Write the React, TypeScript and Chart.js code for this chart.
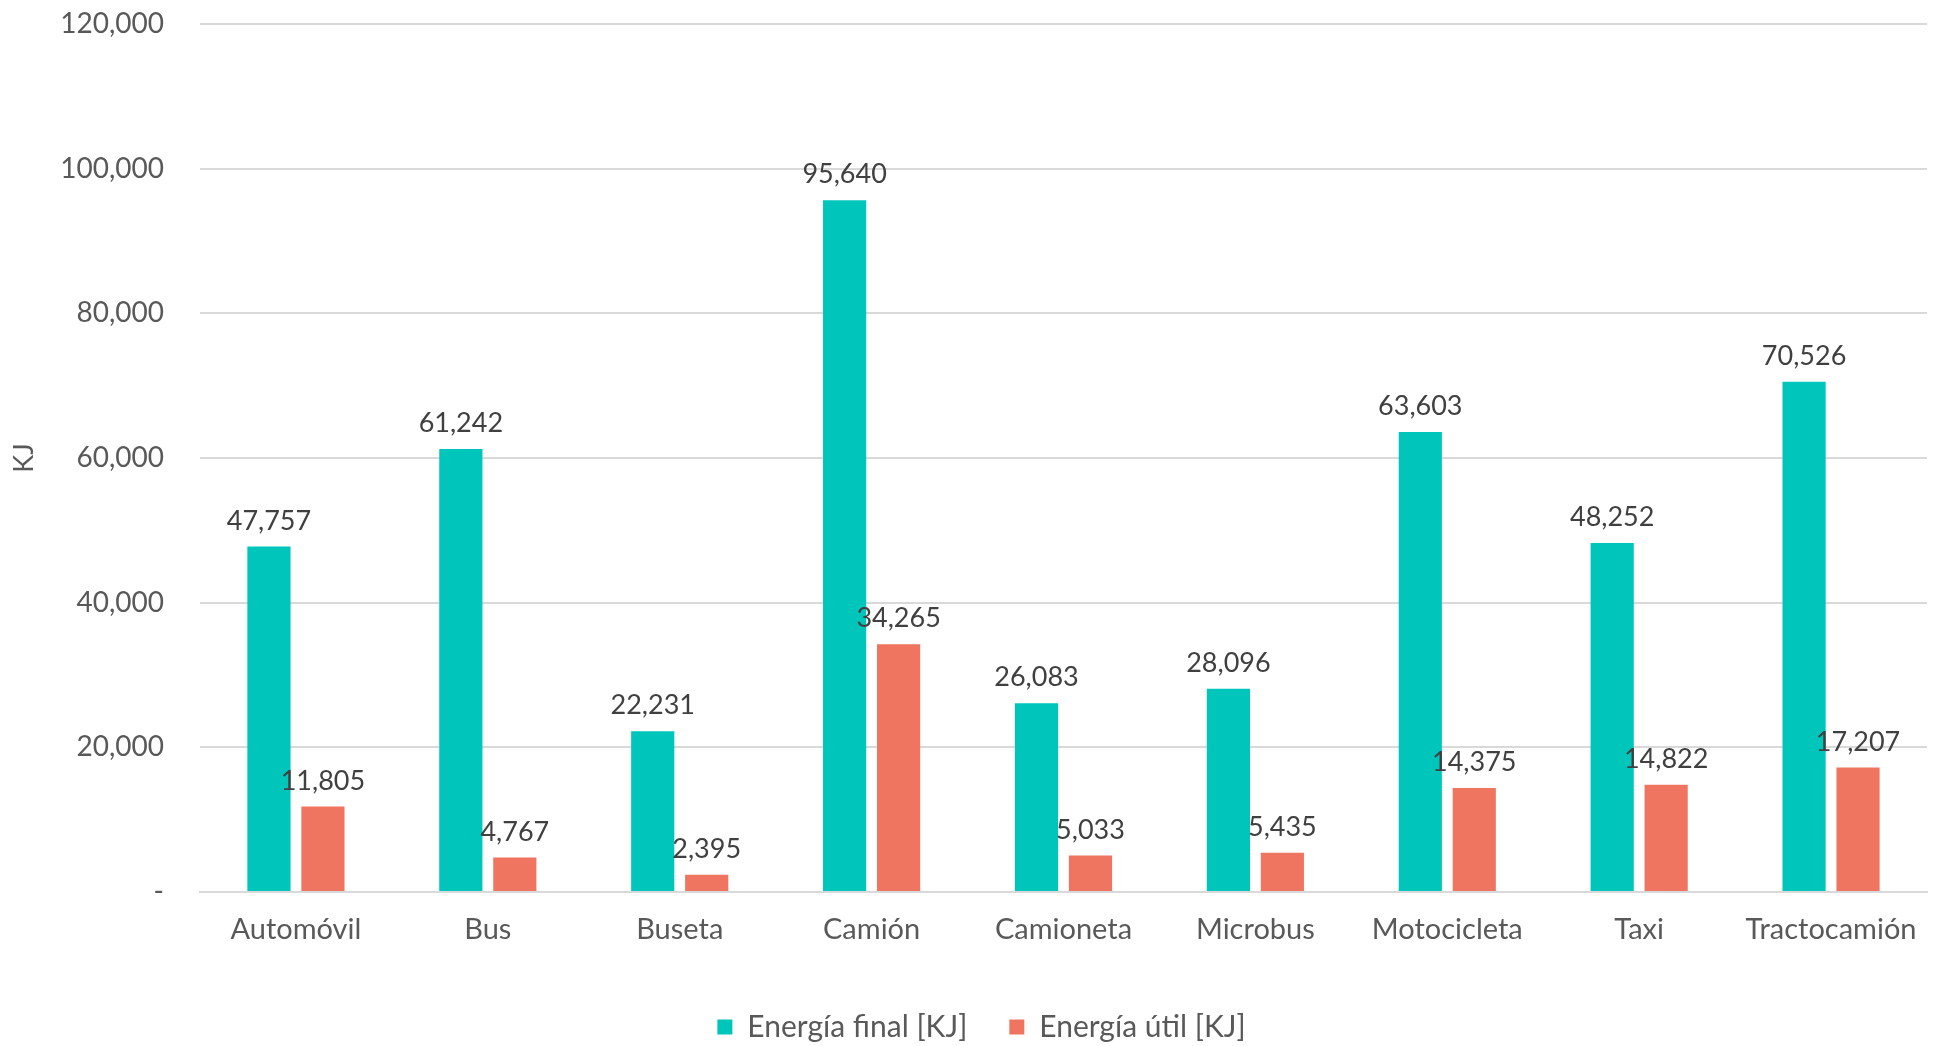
import React, { useEffect, useRef } from "react";
import { Chart, registerables } from "chart.js";

Chart.register(...registerables);

const categories = [
  "Automóvil",
  "Bus",
  "Buseta",
  "Camión",
  "Camioneta",
  "Microbus",
  "Motocicleta",
  "Taxi",
  "Tractocamión",
];
const energiaFinal = [47757, 61242, 22231, 95640, 26083, 28096, 63603, 48252, 70526];
const energiaUtil = [11805, 4767, 2395, 34265, 5033, 5435, 14375, 14822, 17207];
const seriesNames = ["Energía final [KJ]", "Energía útil [KJ]"];
const yTicks = [0, 20000, 40000, 60000, 80000, 100000, 120000];
const yAxisTitle = "KJ";

const FONT = "Lato, 'Open Sans', sans-serif";
const TEAL = "#00C5BA";
const ORANGE = "#F07561";
const TEXT = "#595959";
const GRID = "#D9D9D9";

const fmt = (v: number) => (v === 0 ? "-" : v.toLocaleString("en-US"));

const dataLabels = {
  id: "dataLabels",
  afterDatasetsDraw(chart: any) {
    const ctx = chart.ctx;
    ctx.save();
    ctx.font = `27px ${FONT}`;
    ctx.fillStyle = "#404040";
    ctx.textAlign = "center";
    ctx.textBaseline = "alphabetic";
    chart.data.datasets.forEach((ds: any, di: number) => {
      const meta = chart.getDatasetMeta(di);
      meta.data.forEach((bar: any, i: number) => {
        ctx.fillText(fmt(ds.data[i]), bar.x, bar.y - 17);
      });
    });
    ctx.restore();
  },
};

export default function App() {
  const ref = useRef<HTMLCanvasElement>(null);
  useEffect(() => {
    if (!ref.current) return;
    const chart = new Chart(ref.current, {
      type: "bar",
      data: {
        labels: categories,
        datasets: [
          {
            label: seriesNames[0],
            data: energiaFinal,
            backgroundColor: TEAL,
            categoryPercentage: 0.5625,
            barPercentage: 0.8,
          },
          {
            label: seriesNames[1],
            data: energiaUtil,
            backgroundColor: ORANGE,
            categoryPercentage: 0.5625,
            barPercentage: 0.8,
          },
        ],
      },
      options: {
        responsive: false,
        animation: false,
        devicePixelRatio: 1,
        layout: { padding: { left: 36, right: 21, top: 24, bottom: -6 } },
        plugins: {
          legend: {
            position: "bottom",
            labels: {
              font: { family: FONT, size: 30 },
              color: TEXT,
              boxWidth: 15,
              boxHeight: 15,
              padding: 42,
            },
          },
          tooltip: { enabled: false },
        },
        scales: {
          x: {
            grid: { display: false, drawTicks: false },
            border: { display: true, color: GRID, width: 2 },
            ticks: {
              font: { family: FONT, size: 29 },
              color: TEXT,
              padding: 20,
              maxRotation: 0,
              autoSkip: false,
            },
            afterFit(scale: any) {
              scale.height = 78;
            },
          },
          y: {
            min: 0,
            max: 120000,
            afterBuildTicks(scale: any) {
              scale.ticks = yTicks.map((v) => ({ value: v }));
            },
            grid: {
              color: GRID,
              lineWidth: 2,
              drawTicks: true,
              tickLength: 36,
              tickColor: "rgba(0,0,0,0)",
            },
            border: { display: false },
            title: {
              display: true,
              text: yAxisTitle,
              font: { family: FONT, size: 27 },
              color: TEXT,
              padding: { top: -28, bottom: 0 },
            },
            ticks: {
              font: { family: FONT, size: 28 },
              color: TEXT,
              padding: 0,
              callback: (v: any) => fmt(Number(v)),
            },
            afterFit(scale: any) {
              scale.width = 164;
            },
          },
        },
      },
      plugins: [dataLabels],
    });
    return () => chart.destroy();
  }, []);
  return (
    <div style={{ position: "absolute", left: 0, top: 0, width: 1948, height: 1046, background: "#fff" }}>
      <canvas ref={ref} width={1948} height={1046} style={{ display: "block" }} />
    </div>
  );
}
